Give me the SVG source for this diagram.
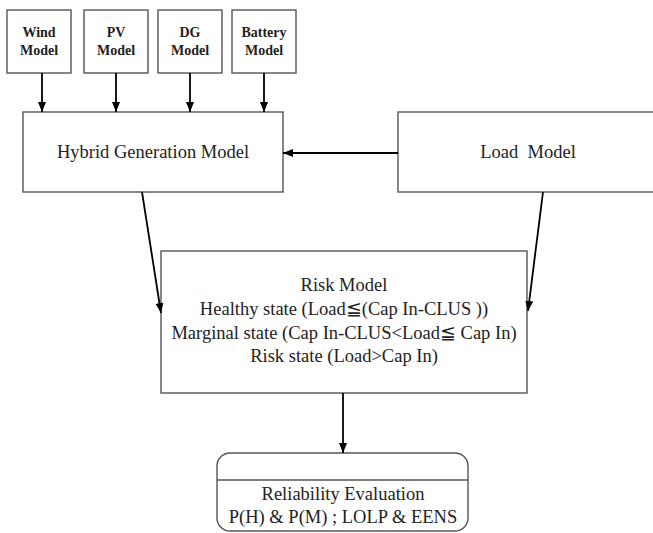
<svg xmlns="http://www.w3.org/2000/svg" width="653" height="533" viewBox="0 0 653 533">
<defs>
<marker id="ah" markerUnits="userSpaceOnUse" markerWidth="10" markerHeight="10" viewBox="0 0 10 10" refX="10" refY="5" orient="auto">
<path d="M0,1 L10,5 L0,9 Z" fill="#000"/>
</marker>
</defs>
<style>
.box{fill:#fff;stroke:#555;stroke-width:1.4}
.t{font-family:"Liberation Serif","Times New Roman",serif;font-size:18.5px;fill:#222;text-anchor:middle}
.b{font-family:"Liberation Serif","Times New Roman",serif;font-size:14px;font-weight:bold;fill:#222;text-anchor:middle}
.c{stroke:#000;stroke-width:1.8;fill:none;marker-end:url(#ah)}
</style>
<rect width="653" height="533" fill="#fff"/>
<g id="wind"><rect class="box" x="7" y="10" width="64" height="63"/><text class="b" x="39" y="37">Wind</text><text class="b" x="39" y="55">Model</text></g>
<g id="pv"><rect class="box" x="84" y="10" width="64" height="63"/><text class="b" x="116" y="37">PV</text><text class="b" x="116" y="55">Model</text></g>
<g id="dg"><rect class="box" x="158" y="10" width="64" height="63"/><text class="b" x="190" y="37">DG</text><text class="b" x="190" y="55">Model</text></g>
<g id="battery"><rect class="box" x="232" y="10" width="64" height="63"/><text class="b" x="264" y="37">Battery</text><text class="b" x="264" y="55">Model</text></g>
<g id="hybrid"><rect class="box" x="23" y="112" width="260" height="80"/><text class="t" x="153" y="158">Hybrid Generation Model</text></g>
<g id="load"><rect class="box" x="398" y="112" width="262" height="80"/><text class="t" x="528" y="158" xml:space="preserve">Load  Model</text></g>
<g id="risk"><rect class="box" x="161" y="251" width="366" height="142"/>
<text class="t" x="344" y="291">Risk Model</text>
<text class="t" x="344" y="315">Healthy state (Load≦(Cap In-CLUS ))</text>
<text class="t" x="344" y="339">Marginal state (Cap In-CLUS&lt;Load≦ Cap In)</text>
<text class="t" x="344" y="362">Risk state (Load&gt;Cap In)</text></g>
<g id="reliability"><rect class="box" x="217" y="453" width="251" height="78" rx="13"/><line x1="217" y1="480" x2="468" y2="480" stroke="#555" stroke-width="1.4"/>
<text class="t" x="343" y="500">Reliability Evaluation</text>
<text class="t" x="343" y="523">P(H) &amp; P(M) ; LOLP &amp; EENS</text></g>
<g id="connectors">
<line class="c" x1="42" y1="73" x2="42" y2="112"/>
<line class="c" x1="116" y1="73" x2="116" y2="112"/>
<line class="c" x1="190" y1="73" x2="190" y2="112"/>
<line class="c" x1="264" y1="73" x2="264" y2="112"/>
<line class="c" x1="398" y1="153" x2="283" y2="153"/>
<line class="c" x1="142" y1="192" x2="161" y2="313"/>
<line class="c" x1="543" y1="192" x2="528" y2="311"/>
<line class="c" x1="343" y1="393" x2="343" y2="453"/>
</g>
</svg>
